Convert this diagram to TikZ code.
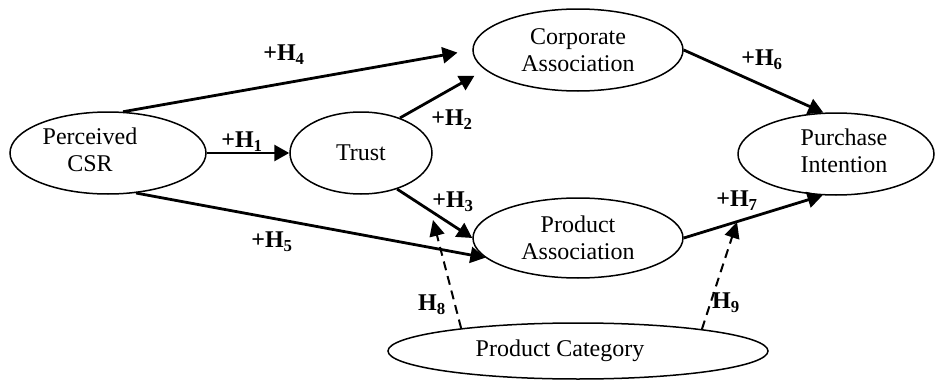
\documentclass[tikz,border=0pt]{standalone}
\usepackage{fontspec}
\setmainfont{Liberation Serif}
\usetikzlibrary{shapes.geometric,arrows.meta}
\begin{document}
\begin{tikzpicture}[x=1pt,y=-1pt,
    txt/.style={align=center, font=\fontsize{24}{27}\selectfont},
    var/.style={draw, ellipse, line width=1.5pt, inner sep=0pt, txt},
    hyp/.style={font=\fontsize{24}{27}\selectfont\bfseries},
    path/.style={line width=2.8pt, -{Triangle[length=15pt,width=16pt]}},
    mod/.style={line width=2pt, dash pattern=on 9pt off 6pt, -{Triangle[length=16pt,width=15pt]}}]
  \useasboundingbox (0,0) rectangle (938,380);
  % constructs
  \node[var, minimum width=196pt, minimum height=82pt, label={[txt, xshift=-18pt, yshift=3pt]center:Perceived\\CSR}] (csr) at (108,153) {};
  \node[var, minimum width=142pt, minimum height=82pt] (trust) at (361,153) {Trust};
  \node[var, minimum width=210pt, minimum height=82pt] (corp) at (578,50) {Corporate\\Association};
  \node[var, minimum width=210pt, minimum height=80pt] (prod) at (578,238) {Product\\Association};
  \node[var, minimum width=196pt, minimum height=82pt, label={[txt, xshift=8pt, yshift=3pt]center:Purchase\\Intention}] (buy) at (836,154) {};
  \node[var, minimum width=380pt, minimum height=56pt, label={[txt, xshift=-18pt]center:Product Category}] (cat) at (578,351) {};
  % hypothesised paths
  \draw[path, shorten >=15pt] (csr.70) -- (corp.west);
  \draw[path] (csr.east) -- (trust.west);
  \draw[path, shorten >=12pt] (trust.42) -- (corp.192);
  \draw[path] (trust.315) -- (prod.west);
  \draw[path] (csr.305) -- (prod.192);
  \draw[path] (corp.east) -- (buy.107);
  \draw[path] (prod.east) -- (buy.252);
  % moderation
  \coordinate (m3) at (433,220);
  \coordinate (m7) at (737,222);
  \draw[mod] (cat.169) -- (m3);
  \draw[mod] (cat.10.5) -- (m7);
  % labels
  \node[hyp] (h1) at (242,142) {+H\textsubscript{1}};
  \node[hyp] (h2) at (452,120) {+H\textsubscript{2}};
  \node[hyp] (h3) at (453,202) {+H\textsubscript{3}};
  \node[hyp] (h4) at (284,55) {+H\textsubscript{4}};
  \node[hyp] (h5) at (272,242) {+H\textsubscript{5}};
  \node[hyp] (h6) at (762,60) {+H\textsubscript{6}};
  \node[hyp] (h7) at (737,201) {+H\textsubscript{7}};
  \node[hyp] (h8) at (432,305) {H\textsubscript{8}};
  \node[hyp] (h9) at (726,303) {H\textsubscript{9}};
\end{tikzpicture}
\end{document}
